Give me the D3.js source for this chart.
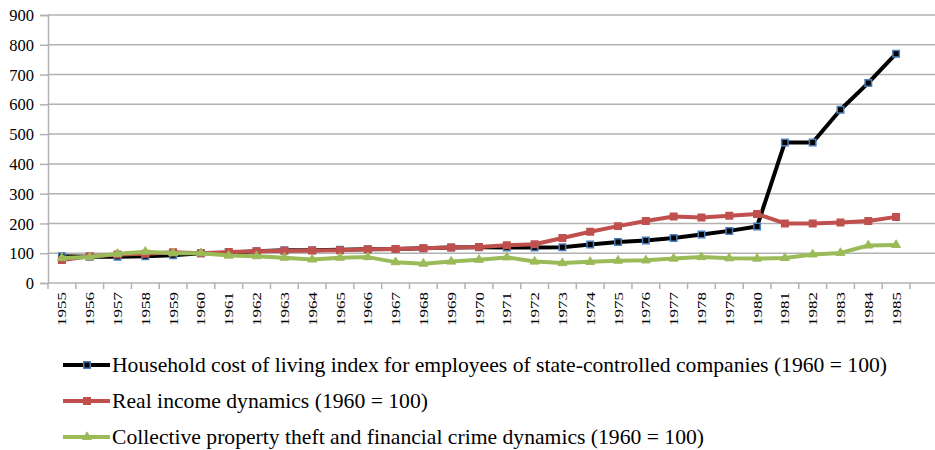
<!DOCTYPE html>
<html>
<head>
<meta charset="utf-8">
<script src="https://cdn.jsdelivr.net/npm/d3@7"></script>
</head>
<body style="margin:0;background:#fff">
<svg id="chart" width="935" height="450" style="display:block" font-family="Liberation Serif, Times New Roman, serif"></svg>
<script>
var years = d3.range(1955, 1986);

var costOfLiving = [90, 88, 88, 90, 93, 100, 102, 107, 110, 110, 112, 113, 114, 117, 119, 120,
                    119, 119, 120, 129, 138, 143, 151, 163, 175, 190, 472, 472, 582, 672, 770];

var realIncome = [77, 90, 96, 98, 103, 100, 104, 107, 108, 109, 110, 113, 114, 117, 119, 121,
                  127, 130, 151, 172, 191, 208, 223, 220, 226, 232, 200, 200, 203, 208, 222];

var propertyTheft = [84, 87, 98, 105, 100, 100, 92, 90, 85, 79, 85, 87, 70, 65, 72, 78,
                     86, 72, 67, 71, 75, 76, 82, 87, 83, 82, 84, 96, 101, 126, 128];

var yTicks = [0, 100, 200, 300, 400, 500, 600, 700, 800, 900];

var seriesNames = [
  'Household cost of living index for employees of state-controlled companies (1960 = 100)',
  'Real income dynamics (1960 = 100)',
  'Collective property theft and financial crime dynamics (1960 = 100)'
];

var series = [
  { name: seriesNames[0], values: costOfLiving, color: '#000000', marker: 'square', mfill: '#000000', mstroke: '#4a7ebb', legendW: 775 },
  { name: seriesNames[1], values: realIncome, color: '#c0504d', marker: 'square', mfill: '#c0504d', mstroke: '#c0504d', legendW: 316 },
  { name: seriesNames[2], values: propertyTheft, color: '#9bbb59', marker: 'triangle', mfill: '#9bbb59', mstroke: '#9bbb59', legendW: 592 }
];

var margin = { left: 48, top: 15, bottom: 283, plotRight: 910, edge: 935 };
var gridColor = '#b2b2b2';
var serif = 'Liberation Serif, Times New Roman, serif';

var svg = d3.select('#chart');

var x = d3.scaleBand()
    .domain(years)
    .range([margin.left, margin.plotRight])
    .paddingInner(0)
    .paddingOuter(0);

var y = d3.scaleLinear()
    .domain([0, 900])
    .range([margin.bottom, margin.top]);

// horizontal gridlines
svg.append('g')
    .selectAll('line')
    .data(yTicks.filter(function(d) { return d > 0; }))
    .enter().append('line')
    .attr('x1', margin.left).attr('x2', margin.edge)
    .attr('y1', function(d) { return y(d); })
    .attr('y2', function(d) { return y(d); })
    .attr('stroke', gridColor)
    .attr('stroke-width', 1.5);

// y axis
var yAxis = svg.append('g')
    .attr('transform', 'translate(' + margin.left + ',0)')
    .call(d3.axisLeft(y).tickValues(yTicks).tickSize(8).tickPadding(6))
    .attr('font-family', serif)
    .attr('font-size', 16.5);
yAxis.select('.domain').attr('stroke', gridColor).attr('stroke-width', 1.5);
yAxis.selectAll('.tick line').attr('stroke', gridColor).attr('stroke-width', 1.5);
yAxis.selectAll('.tick text')
    .attr('fill', '#000')
    .attr('dy', '0.34em')
    .attr('font-family', serif);

// x axis line
svg.append('line')
    .attr('x1', margin.left).attr('x2', margin.edge)
    .attr('y1', margin.bottom).attr('y2', margin.bottom)
    .attr('stroke', gridColor)
    .attr('stroke-width', 1.5);

// x ticks at category boundaries
var tickPos = years.map(function(d) { return x(d); }).concat([x(1985) + x.bandwidth()]);
svg.append('g')
    .selectAll('line')
    .data(tickPos)
    .enter().append('line')
    .attr('x1', function(d) { return d; })
    .attr('x2', function(d) { return d; })
    .attr('y1', margin.bottom).attr('y2', margin.bottom + 6)
    .attr('stroke', gridColor)
    .attr('stroke-width', 1.5);

// x labels, rotated
svg.append('g')
    .selectAll('text')
    .data(years)
    .enter().append('text')
    .attr('transform', function(d) {
        return 'translate(' + (x(d) + x.bandwidth() / 2) + ',' + (margin.bottom + 9) + ') rotate(-90)';
    })
    .attr('text-anchor', 'end')
    .attr('dy', '0.35em')
    .attr('textLength', 34)
    .attr('lengthAdjust', 'spacingAndGlyphs')
    .attr('font-family', serif)
    .attr('font-size', 13)
    .text(function(d) { return d; });

var line = d3.line()
    .x(function(d, i) { return x(years[i]) + x.bandwidth() / 2; })
    .y(function(d) { return y(d); });

var squareSym = d3.symbol().type(d3.symbolSquare).size(42);
var triSym = d3.symbol().type(d3.symbolTriangle).size(34);

function drawMarker(sel, s) {
    sel.attr('d', s.marker === 'square' ? squareSym : triSym)
        .attr('fill', s.mfill)
        .attr('stroke', s.mstroke)
        .attr('stroke-width', s.marker === 'square' ? 1.5 : 1);
}

series.forEach(function(s) {
    var g = svg.append('g');
    g.append('path')
        .datum(s.values)
        .attr('d', line)
        .attr('fill', 'none')
        .attr('stroke', s.color)
        .attr('stroke-width', 4)
        .attr('stroke-linejoin', 'round');
    g.selectAll('path.m')
        .data(s.values)
        .enter().append('path')
        .attr('class', 'm')
        .attr('transform', function(d, i) {
            return 'translate(' + (x(years[i]) + x.bandwidth() / 2) + ',' + y(d) + ')';
        })
        .call(drawMarker, s);
});

// legend
var legend = svg.append('g');
series.forEach(function(s, i) {
    var ly = 365 + i * 36;
    legend.append('line')
        .attr('x1', 63).attr('x2', 110)
        .attr('y1', ly).attr('y2', ly)
        .attr('stroke', s.color)
        .attr('stroke-width', 4);
    legend.append('path')
        .attr('transform', 'translate(87,' + ly + ')')
        .call(drawMarker, s);
    legend.append('text')
        .attr('x', 112)
        .attr('y', ly)
        .attr('dy', '0.35em')
        .attr('textLength', s.legendW)
        .attr('lengthAdjust', 'spacingAndGlyphs')
        .attr('font-family', serif)
        .attr('font-size', 21)
        .text(s.name);
});
</script>
</body>
</html>
